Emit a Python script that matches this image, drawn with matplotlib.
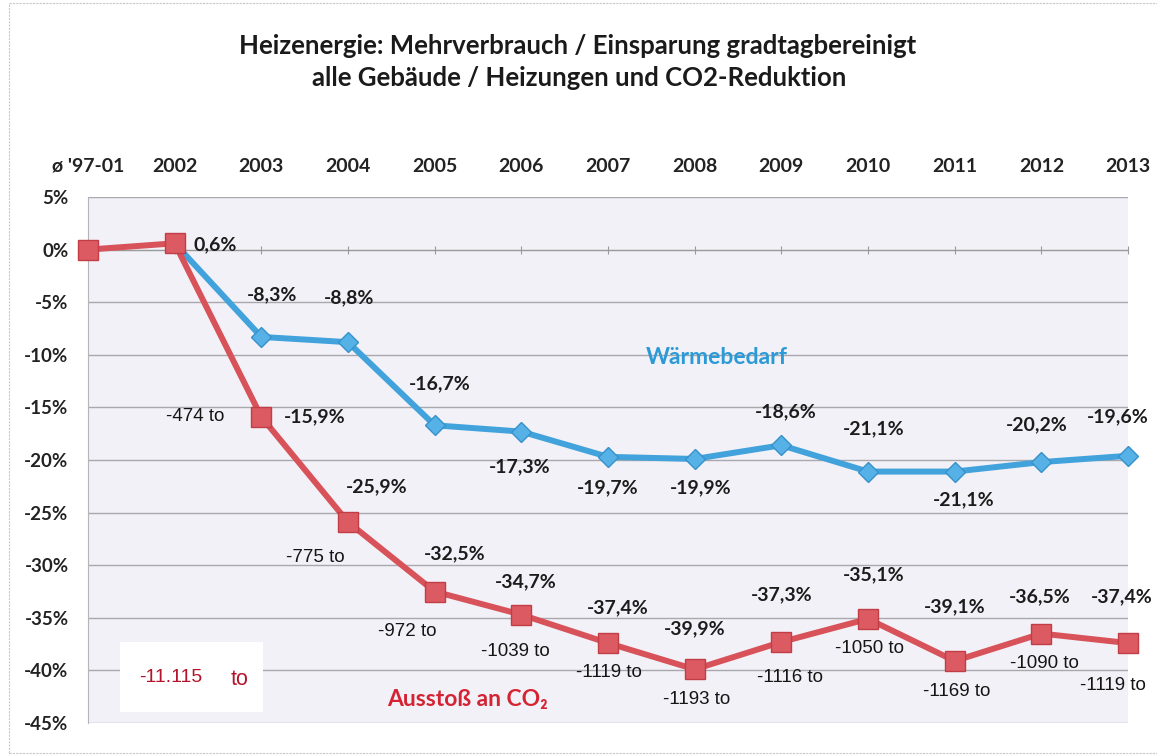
import matplotlib
matplotlib.use('Agg')
import matplotlib.pyplot as plt
from matplotlib.patches import Rectangle

# ---------------- data ----------------
categories = ["ø '97-01", "2002", "2003", "2004", "2005", "2006", "2007",
              "2008", "2009", "2010", "2011", "2012", "2013"]
waerme = [0.0, 0.6, -8.3, -8.8, -16.7, -17.3, -19.7, -19.9, -18.6, -21.1, -21.1, -20.2, -19.6]
co2 = [0.0, 0.6, -15.9, -25.9, -32.5, -34.7, -37.4, -39.9, -37.3, -35.1, -39.1, -36.5, -37.4]
co2_tonnes = [None, None, -474, -775, -972, -1039, -1119, -1193, -1116, -1050, -1169, -1090, -1119]
total_tonnes = "-11.115"
y_ticks = [5, 0, -5, -10, -15, -20, -25, -30, -35, -40, -45]
title_lines = ["Heizenergie: Mehrverbrauch / Einsparung gradtagbereinigt",
               "alle Gebäude / Heizungen und CO2-Reduktion"]

# ---------------- layout (label offsets in pixels, y downwards) ----------------
blue_off = {1: (41, 1), 2: (11, -42), 3: (1, -44), 4: (5, -42), 5: (-2, 35), 6: (0, 31),
            7: (6, 29), 8: (4, -34), 9: (6, -43), 10: (9, 28), 11: (-5, -37), 12: (-10, -39)}
red_off = {2: (53, 0), 3: (29, -35), 4: (20, -38), 5: (4, -33), 6: (10, -35), 7: (0, -41),
           8: (0, -47), 9: (6, -44), 10: (0, -54), 11: (-2, -37), 12: (-6, -46)}
ton_off = {2: (-66, 0), 3: (-33, 35), 4: (-27, 40), 5: (-6, 37), 6: (1, 29), 7: (2, 30),
           8: (9, 36), 9: (2, 30), 10: (2, 31), 11: (3, 30), 12: (-15, 42)}

BLUE = '#42a2dc'
RED = '#d8525a'
LBL = ['Lato', 'DejaVu Sans']
ARIAL = ['Liberation Sans', 'DejaVu Sans']

plt.rcParams['font.family'] = LBL
plt.rcParams['font.weight'] = 'bold'
plt.rcParams['xtick.labelsize'] = 14
plt.rcParams['ytick.labelsize'] = 13.5
plt.rcParams['xtick.labelcolor'] = '#222222'
plt.rcParams['ytick.labelcolor'] = '#222222'

W, H = 1157, 756
fig = plt.figure(figsize=(W / 100, H / 100), dpi=100)
fig.patch.set_facecolor('white')

ax_l, ax_r, ax_t, ax_b = 88, 1128, 197, 723
ax = fig.add_axes([ax_l / W, 1 - ax_b / H, (ax_r - ax_l) / W, (ax_b - ax_t) / H])
ax.set_facecolor('#f2f1f7')

x = list(range(len(categories)))
ax.set_xlim(0, len(categories) - 1)
ax.set_ylim(min(y_ticks), max(y_ticks))

# y axis / grid
ax.set_yticks(y_ticks)
ax.set_yticklabels([f"{t}%" for t in y_ticks])
ax.yaxis.grid(True, color='#a9a9ad', linewidth=1.0)
ax.set_axisbelow(True)
ax.tick_params(axis='y', length=0, pad=14)

# x axis: line at 0 %, labels on top
ax.set_xticks(x)
ax.set_xticklabels(categories)
ax.tick_params(axis='x', bottom=True, top=False, labelbottom=False, labeltop=True,
               direction='inout', length=6, color='#9a9a9a', pad=13)
ax.spines['bottom'].set_position(('data', 0))
ax.spines['bottom'].set_color('#9a9a9a')
ax.spines['top'].set_visible(False)
ax.spines['right'].set_visible(False)
ax.spines['left'].set_color('#b5b5b5')

# series
ax.plot(x[1:], waerme[1:], color=BLUE, linewidth=4.3, marker='D', markersize=10.5,
        markerfacecolor='#55b1e6', markeredgecolor='#3792cc', markeredgewidth=1.0,
        zorder=3, solid_joinstyle='round', clip_on=False)
ax.plot(x, co2, color=RED, linewidth=4.3, marker='s', markersize=14,
        markerfacecolor='#dc5a62', markeredgecolor='#c23d46', markeredgewidth=1.0,
        zorder=4, solid_joinstyle='round', clip_on=False)


def fmt(v):
    return f"{v:.1f}".replace('.', ',') + '%'


def px(d):
    return (d[0] * 0.72, -d[1] * 0.72)


for i, d in blue_off.items():
    ax.annotate(fmt(waerme[i]), (x[i], waerme[i]), xytext=px(d), textcoords='offset points',
                ha='center', va='center', family=LBL, fontweight='bold', fontsize=14,
                color='#1c1c1c', zorder=6, annotation_clip=False)
for i, d in red_off.items():
    ax.annotate(fmt(co2[i]), (x[i], co2[i]), xytext=px(d), textcoords='offset points',
                ha='center', va='center', family=LBL, fontweight='bold', fontsize=14,
                color='#1c1c1c', zorder=6, annotation_clip=False)
for i, d in ton_off.items():
    ax.annotate(f"{co2_tonnes[i]} to", (x[i], co2[i]), xytext=px(d), textcoords='offset points',
                ha='center', va='center', family=ARIAL, fontweight='normal',
                fontsize=13.5, color='#151515', zorder=6, annotation_clip=False)

# series names
ax.text(0.605, 0.694, "Wärmebedarf", transform=ax.transAxes, ha='center', va='center',
        family=LBL, fontweight='bold', fontsize=16.5, color='#2b9ad6', zorder=6)
ax.text(0.365, 0.044, "Ausstoß an CO₂", transform=ax.transAxes, ha='center', va='center',
        family=LBL, fontweight='bold', fontsize=16.5, color='#d42434', zorder=6)

# total box
ax.add_patch(Rectangle((0.031, 0.021), 0.137, 0.133, transform=ax.transAxes,
                       facecolor='white', edgecolor='none', zorder=5))
ax.text(0.080, 0.087, total_tonnes, transform=ax.transAxes, ha='center', va='center',
        family=ARIAL, fontweight='normal', fontsize=14, color='#b3142a', zorder=6)
ax.text(0.146, 0.082, "to", transform=ax.transAxes, ha='center', va='center',
        family=ARIAL, fontweight='normal', fontsize=15.5, color='#b3142a', zorder=6)

# title
fig.text(578 / W, 1 - 46 / H, title_lines[0], ha='center', va='center', family=LBL,
         fontweight='bold', fontsize=18.5, color='#1a1a1a')
fig.text(579 / W, 1 - 78 / H, title_lines[1], ha='center', va='center', family=LBL,
         fontweight='bold', fontsize=18.5, color='#1a1a1a')

# outer chart border
fig.patches.append(Rectangle((9 / W, 3 / H), 1.2, 1 - 6 / H, transform=fig.transFigure,
                             facecolor='none', edgecolor='#c8c8c8', linewidth=0.8,
                             linestyle=(0, (2, 1)), figure=fig))

fig.savefig('out.png', dpi=100)
